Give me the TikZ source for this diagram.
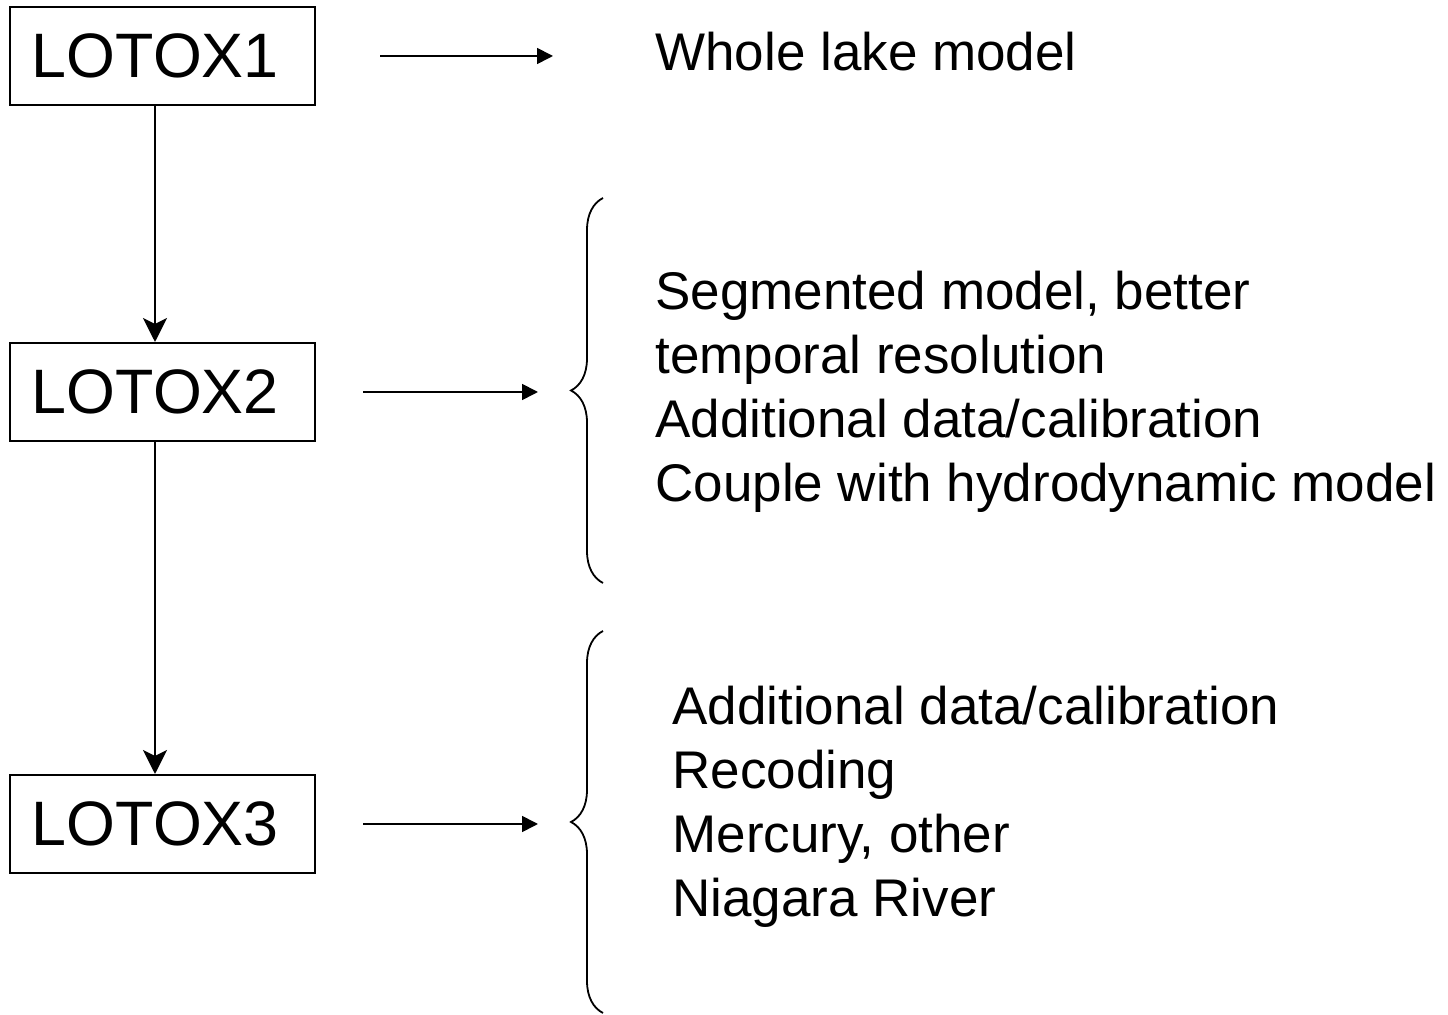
\documentclass[tikz,border=0pt]{standalone}
\usepackage{fontspec}
\setmainfont{Liberation Sans}
\usetikzlibrary{arrows.meta,decorations.pathreplacing}

\begin{document}
\begin{tikzpicture}[
				x=0.5pt, y=-0.5pt,
				font=\fontsize{26.5}{32}\selectfont,
				every node/.style={
						font=\fontsize{26.5}{32}\selectfont,
					},
				modelbox/.style={draw, line width=1pt, text width=130.5pt, align=left,
						inner xsep=11pt, minimum height=49pt,
						font=\fontsize{31.4}{36}\selectfont},
				down/.style={-{Stealth[length=12pt,width=12pt,inset=3pt]}, line width=0.85pt},
				toright/.style={-{Triangle[length=8pt,width=8pt]}, line width=0.85pt},
				curly/.style={decorate, decoration={brace, amplitude=16pt}, line width=0.9pt},
				notes/.style={anchor=base west, inner sep=0pt, align=left},]
			\useasboundingbox (0,0) rectangle (1448,1015);
			\foreach \i/\y in {1/56,2/392,3/824} {
					\node[modelbox] (lotox\i) at (162.5,\y) {LOTOX\i};
				}
			\foreach \a/\b in {1/2,2/3} {
					\draw[down] ([xshift=-3.75pt]lotox\a.south) -- ([xshift=-3.75pt]lotox\b.north);
				}
			\foreach \i/\xa/\xb in {1/380/553,2/363/538,3/363/538} {
					\coordinate (from\i) at (\xa,0);
					\coordinate (to\i) at (\xb,0);
					\draw[toright] (from\i |- lotox\i) -- (to\i |- lotox\i);
				}
			% base of a multi-line node = baseline of its last line
			\node[notes] (whole) at (655,71) {Whole lake model};
			\node[notes] (segmented) at (655,502) {Segmented model, better\\temporal resolution\\Additional data/calibration\\Couple with hydrodynamic model};
			\node[notes] (recoding) at (672,917) {Additional data/calibration\\Recoding\\Mercury, other\\Niagara River};
			\draw[curly] (603,583) -- (603,198);
			\draw[curly] (603,1013) -- (603,631);
		\end{tikzpicture}
\end{document}
